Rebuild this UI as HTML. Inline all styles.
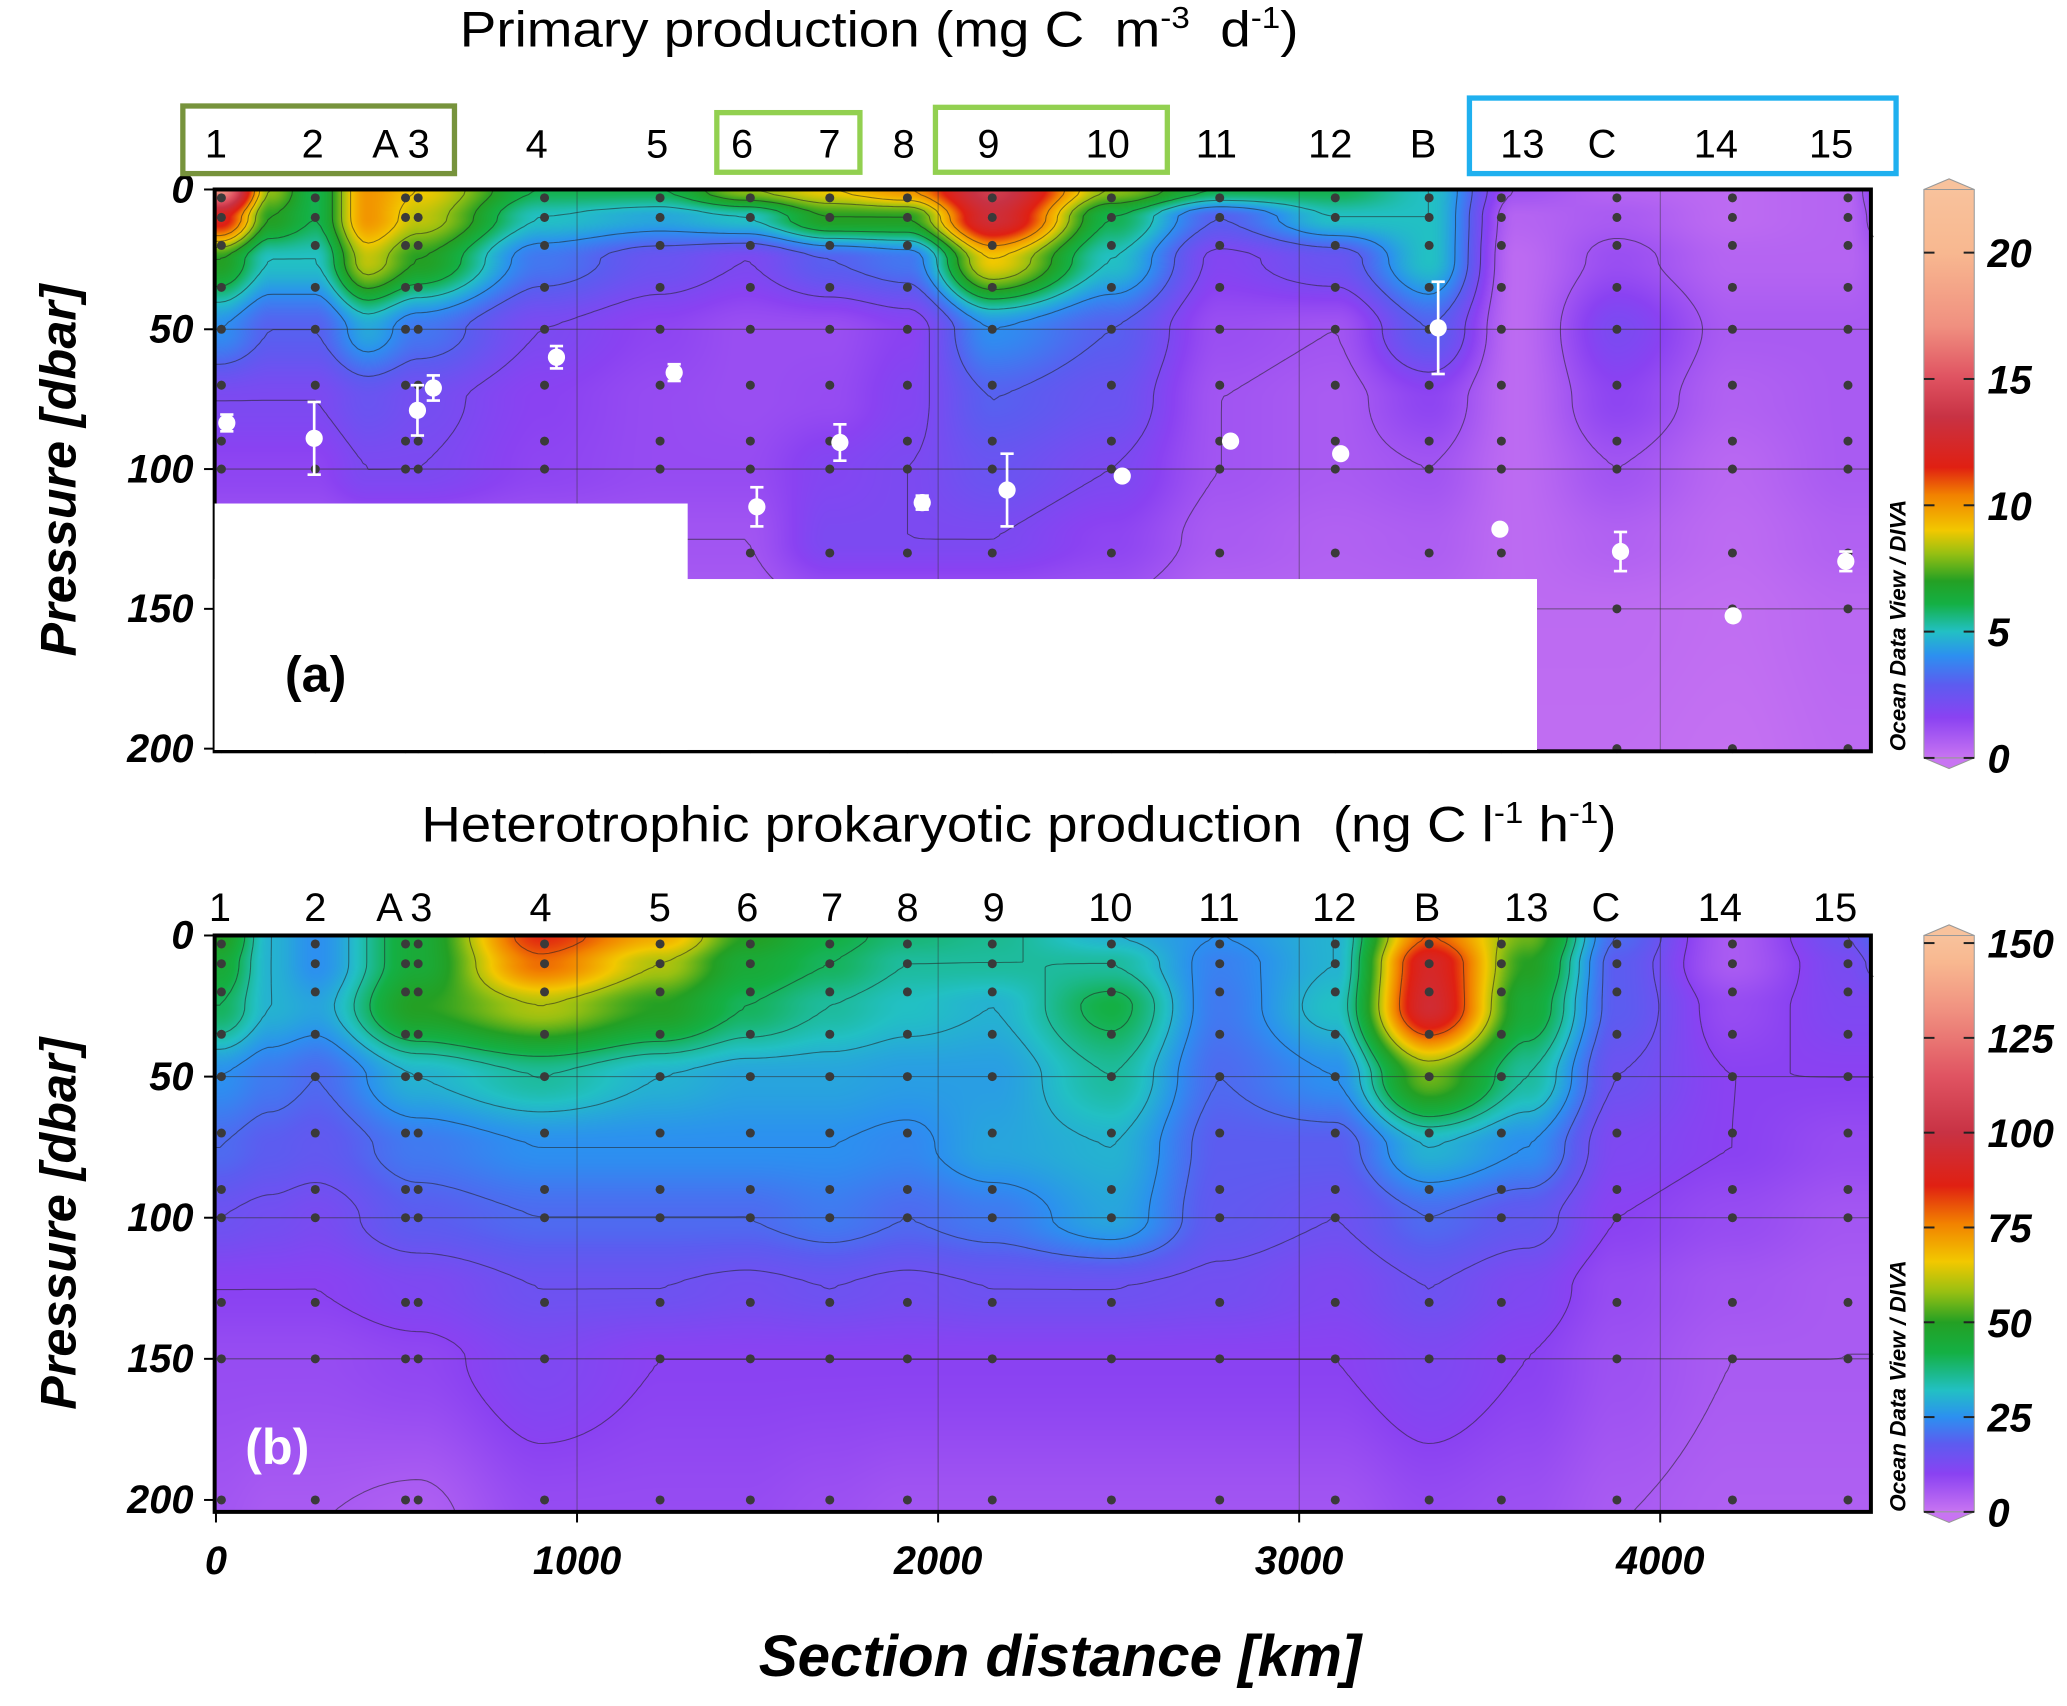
<!DOCTYPE html>
<html><head><meta charset="utf-8">
<style>
html,body{margin:0;padding:0;background:#fff;}
#wrap{position:relative;width:2067px;height:1706px;overflow:hidden;}
#heat{position:absolute;left:0;top:0;}
#svg{position:absolute;left:0;top:0;}
text{font-family:"Liberation Sans",sans-serif;}
</style></head>
<body>
<div id="wrap">
<canvas id="heat" width="2067" height="1706"></canvas>
<svg id="svg" width="2067" height="1706" viewBox="0 0 1560 1287.5" preserveAspectRatio="none">
<defs>
<linearGradient id="cmapA" x1="0" y1="1" x2="0" y2="0"></linearGradient>
<linearGradient id="cmapB" x1="0" y1="1" x2="0" y2="0"></linearGradient>
</defs>
<g id="layer"></g>
</svg>
</div>
<script>
// ---------- data ----------
const depthsGrid = [0,10,25,50,75,100,125,150,210];
const kmA = [10,150,275,420,560,900,1230,1470,1700,1915,2150,2480,2780,3100,3360,3600,3880,4200,4520,4600];
const ppValues = [
 [17,12,7,4,2,1.5,1,1,0.5],
 [8,7,5,3,2,1.5,1,1,0.5],
 [6,6,5,3,2,1.5,1,0.8,0.5],
 [10,10,8.5,4.5,2.5,2,1,0.8,0.5],
 [9,8.5,7,3.5,2.2,2,1,0.8,0.5],
 [6,5,3.5,2,1.6,1.5,1,0.8,0.5],
 [6,4.5,2.5,1.5,1.3,1.3,1,0.8,0.5],
 [8,5,2,1.2,1.2,1.3,1,0.8,0.5],
 [9,7,3,1.2,1.3,1.8,2,1,0.5],
 [10,7,3.5,1.6,1.8,2,2,1,0.5],
 [14,13,9,4,3,2.5,2,1,0.5],
 [8,6,5,3,2.5,2,1.5,1,0.5],
 [6,3,1.8,1.2,1,1,0.8,0.5,0.3],
 [6,5,2.5,1,0.8,0.8,0.6,0.5,0.3],
 [5,5,5,3,1.5,1,0.7,0.5,0.3],
 [1,0.5,0.3,0.3,0.3,0.3,0.3,0.3,0.2],
 [0.5,0.8,1.2,2,1.5,1,0.6,0.3,0.2],
 [0.3,0.3,0.5,0.8,0.6,0.4,0.3,0.2,0.1],
 [0.5,0.5,0.5,0.8,0.8,0.8,0.6,0.4,0.3],
 [1.5,1.2,0.8,0.8,0.8,0.8,0.6,0.4,0.3]
];
const kmB = [10,150,275,560,900,1230,1470,1700,1915,2150,2480,2780,3100,3360,3630,3880,4200,4520,4600];
const hppValues = [
 [50,45,40,25,20,15,10,8,6],
 [30,30,30,22,18,14,10,8,5],
 [25,25,28,20,17,13,10,8,5],
 [45,45,50,30,22,18,12,9,4],
 [85,78,60,35,25,20,15,12,8],
 [70,60,50,30,25,20,15,10,8],
 [50,45,40,28,25,20,14,10,8],
 [42,40,35,28,25,22,15,10,7],
 [38,35,32,27,24,20,14,10,6],
 [36,35,30,27,28,22,15,10,6],
 [30,35,42,35,30,28,15,10,6],
 [25,23,22,20,18,17,14,10,6],
 [30,30,32,25,18,15,12,10,6],
 [80,92,95,55,30,20,15,12,8],
 [55,50,45,35,25,17,12,10,7],
 [20,18,18,15,12,10,8,7,5],
 [5,5,8,10,10,8,6,5,4],
 [15,13,12,10,8,6,5,5,4],
 [20,16,12,10,8,6,5,5,4]
];
const ppObsKm = [30,272,558,602,943,1269,1498,1728,1956,2191,2510,2810,3115,3385,3556,3890,4202,4514];
const ppObsDepth = [83.5,89,79,71,60,65.5,113.5,90.5,112,107.5,102.5,90,94.5,49.5,121.5,129.5,152.5,133];
const ppObsErr = [3,13,9,4.5,4,3,7,6.5,2.5,13,0,0,0,16.5,0,7,0,3.5];
const stationLabelsA = ["1","2","A","3","4","5","6","7","8","9","10","11","12","B","13","C","14","15"];
const stationLabelXA = [163,236,291,316,405,496,560,626,682,746,836,918,1004,1074,1149,1209,1295,1382];
const stationLabelXB = [166,238,294,318,408,498,564,628,685,750,838,920,1007,1077,1152,1212,1298,1385];
const stationKm = [15,275,525,560,910,1230,1480,1700,1915,2150,2480,2780,3100,3360,3560,3880,4200,4520];
const xTicks = [0,1000,2000,3000,4000];
const yTicks = [0,50,100,150,200];
const cbTicksA = [0,5,10,15,20];
const cbTicksB = [0,25,50,75,100,125,150];
const contourLevelsA = [1,2,3,4,5,6,7,8,9,10];
const contourLevelsB = [5,10,15,20,25,30,35,40,60,80];
// ---------- geometry ----------
const S = 2067/1560;
const X0=162, X1=1412, KM_PER=0.2725;
const xs = km => 163 + km*KM_PER;
const PA = {top:143, y200:565, bottom:567};
const PB = {top:706, y200:1132, bottom:1141};
const ys = (p,d) => p.top + d*(p.y200-p.top)/200;
const colors = ['#c874f2','#8a42f2','#5c5cf0','#2c90f0','#22c0c4','#14b044','#24a024','#98c012','#f2c800','#f28200','#e02012','#c83244','#e05462','#f09080','#f8b890','#f8c29c'];
const stopsA = [0,1.6,2.9,4.05,5,6.1,7,8.1,9,10.4,11.5,13.5,15.1,17.1,20,22.5];
const stopsB = [0,10,18,25,32,42,50,58,66,76,86,100,115,132,145,152];
function hex(h){return [parseInt(h.slice(1,3),16),parseInt(h.slice(3,5),16),parseInt(h.slice(5,7),16)];}
const rgb = colors.map(hex);
function cmap(stops,v){v=Math.max(0,Math.min(stops[stops.length-1],v));for(let i=1;i<stops.length;i++){if(v<=stops[i]){const t=(v-stops[i-1])/(stops[i]-stops[i-1]);return [0,1,2].map(k=>rgb[i-1][k]+(rgb[i][k]-rgb[i-1][k])*t);}}return rgb[rgb.length-1];}
function sm(t){return t*t*(3-2*t);}
function field(kms,vals,km,d){
  let i=0;while(i<kms.length-2&&km>kms[i+1])i++;
  let tx=(km-kms[i])/(kms[i+1]-kms[i]);tx=sm(Math.max(0,Math.min(1,tx)));
  let j=0;while(j<depthsGrid.length-2&&d>depthsGrid[j+1])j++;
  let ty=(d-depthsGrid[j])/(depthsGrid[j+1]-depthsGrid[j]);ty=sm(Math.max(0,Math.min(1,ty)));
  const a=vals[i][j]*(1-tx)+vals[i+1][j]*tx, b=vals[i][j+1]*(1-tx)+vals[i+1][j+1]*tx;
  return a*(1-ty)+b*ty;
}
// ---------- heatmaps ----------
const cv=document.getElementById('heat');const ctx=cv.getContext('2d');
const img=ctx.createImageData(2067,1706);
function paint(p,kms,vals,stops){
  const px0=Math.round(X0*S),px1=Math.round(X1*S),py0=Math.round(p.top*S),py1=Math.round(p.bottom*S);
  for(let py=py0;py<py1;py++){const d=(py/S-p.top)*200/(p.y200-p.top);
    for(let px=px0;px<px1;px++){const km=(px/S-163)/KM_PER;
      const c=cmap(stops,field(kms,vals,km,d));const o=(py*2067+px)*4;
      img.data[o]=c[0];img.data[o+1]=c[1];img.data[o+2]=c[2];img.data[o+3]=255;}}
}
paint(PA,kmA,ppValues,stopsA);
paint(PB,kmB,hppValues,stopsB);
ctx.putImageData(img,0,0);
// ---------- svg ----------
const NS='http://www.w3.org/2000/svg';
const L=document.getElementById('layer');
function el(tag,attrs,parent,txt){const e=document.createElementNS(NS,tag);for(const k in attrs)e.setAttribute(k,attrs[k]);if(txt!==undefined)e.textContent=txt;(parent||L).appendChild(e);return e;}
[['cmapA',stopsA],['cmapB',stopsB]].forEach(([id,st])=>{const g=document.getElementById(id);const mx=st[st.length-1];st.forEach((v,i)=>el('stop',{offset:v/mx,'stop-color':colors[i]},g));});

function contours(p,kms,vals,levels,g){
  const step=4;const nx=Math.ceil((X1-X0)/step),ny=Math.ceil((p.bottom-p.top)/step);
  const F=[];for(let j=0;j<=ny;j++){F.push([]);for(let i=0;i<=nx;i++){const x=X0+i*step,y=p.top+j*step;F[j].push(field(kms,vals,(x-163)/KM_PER,(y-p.top)*200/(p.y200-p.top)));}}
  levels.forEach(lv=>{let dstr='';
    for(let j=0;j<ny;j++)for(let i=0;i<nx;i++){
      const v=[F[j][i],F[j][i+1],F[j+1][i+1],F[j+1][i]];const x=X0+i*step,y=p.top+j*step;
      const pc=[[x,y],[x+step,y],[x+step,y+step],[x,y+step]];const pts=[];
      for(let e=0;e<4;e++){const a=v[e],b=v[(e+1)%4];if((a<lv)!==(b<lv)){const t=(lv-a)/(b-a);const A=pc[e],B=pc[(e+1)%4];pts.push([A[0]+(B[0]-A[0])*t,A[1]+(B[1]-A[1])*t]);}}
      for(let k=0;k+1<pts.length;k+=2)dstr+=`M${pts[k][0].toFixed(1)} ${pts[k][1].toFixed(1)}L${pts[k+1][0].toFixed(1)} ${pts[k+1][1].toFixed(1)}`;}
    const path=el('path',{d:dstr,fill:'none',stroke:'#222','stroke-width':0.8,opacity:0.55},g);
    
    
  });
}

function panel(p,name,kms,vals,levels,cbTicks,cbMax,grad,cbTop,cbBottom){
  const g=el('g',{});
  
  
  contours(p,kms,vals,levels,g);
  xTicks.forEach(t=>{if(t>0){const l=el('line',{x1:xs(t),x2:xs(t),y1:p.top,y2:p.bottom,stroke:'#333','stroke-width':0.6,opacity:0.6},g);}});
  yTicks.forEach(t=>{if(t>0&&t<200){const l=el('line',{x1:X0,x2:X1,y1:ys(p,t),y2:ys(p,t),stroke:'#333','stroke-width':0.8,opacity:0.6},g);}});
  stationKm.forEach(k=>{[3,10,20,35,50,70,90,100,130,150,200].forEach(d=>{const c=el('circle',{cx:xs(k),cy:ys(p,d),r:3.4,fill:'#3a3a3a'},g);});});
  const fr=el('rect',{x:X0,y:p.top,width:X1-X0,height:p.bottom-p.top,fill:'none',stroke:'#000','stroke-width':3},g);
  
  yTicks.forEach(t=>{const y=ys(p,t);el('line',{x1:X0-8,x2:X0,y1:y,y2:y,stroke:'#000','stroke-width':1.5},g);
    const tx=el('text',{x:X0-16,y:y+10,'text-anchor':'end','font-size':30,'font-weight':'bold','font-style':'italic'},g,String(t));
    });
  const yl=el('text',{x:0,y:0,transform:`translate(57,${(p.top+p.bottom)/2}) rotate(-90)`,'text-anchor':'middle','font-size':38,'font-weight':'bold','font-style':'italic'},g,'Pressure [dbar]');
  
  const odv=el('text',{x:0,y:0,transform:`translate(1438,${p.bottom}) rotate(-90)`,'font-size':17,'font-weight':'bold','font-style':'italic'},g,'Ocean Data View / DIVA');
  
  const cb=el('g',{},g);
  el('rect',{x:1452,y:cbTop,width:38,height:cbBottom-cbTop,fill:`url(#${grad})`,stroke:'#999','stroke-width':0.8},cb);
  el('polygon',{points:`1452,${cbTop} 1471,${cbTop-8} 1490,${cbTop}`,fill:'#f8c29c',stroke:'#999','stroke-width':0.8},cb);
  el('polygon',{points:`1452,${cbBottom} 1471,${cbBottom+8} 1490,${cbBottom}`,fill:'#c874f2',stroke:'#999','stroke-width':0.8},cb);
  cbTicks.forEach(t=>{const y=cbBottom-(cbBottom-cbTop)*t/cbMax;
    el('line',{x1:1452,x2:1460,y1:y,y2:y,stroke:'#222','stroke-width':1.5},cb);el('line',{x1:1482,x2:1490,y1:y,y2:y,stroke:'#222','stroke-width':1.5},cb);
    const tl=el('text',{x:1500,y:y+11,'font-size':30,'font-weight':'bold','font-style':'italic'},cb,String(t));
    });
  return g;
}
panel(PA,'panel-a-primary-production',kmA,ppValues,contourLevelsA,cbTicksA,22.5,'cmapA',143,572);
panel(PB,'panel-b-heterotrophic-production',kmB,hppValues,contourLevelsB,cbTicksB,152,'cmapB',706,1141);
xTicks.forEach(t=>{const x=xs(t);el('line',{x1:x,x2:x,y1:PB.bottom,y2:PB.bottom+8,stroke:'#000','stroke-width':1.5});
  const tx=el('text',{x:x,y:1188,'text-anchor':'middle','font-size':30,'font-weight':'bold','font-style':'italic'},L,String(t));
  });
const m1=el('rect',{x:162,y:380,width:357,height:186,fill:'#fff'});
const m2=el('rect',{x:162,y:437,width:998,height:129,fill:'#fff'});
ppObsKm.forEach((k,i)=>{const x=xs(k),y=ys(PA,ppObsDepth[i]),e=ppObsErr[i]*2.11;
  const g=el('g',{});
  if(e>0){el('line',{x1:x,x2:x,y1:y-e,y2:y+e,stroke:'#fff','stroke-width':2},g);
    el('line',{x1:x-5,x2:x+5,y1:y-e,y2:y-e,stroke:'#fff','stroke-width':2},g);el('line',{x1:x-5,x2:x+5,y1:y+e,y2:y+e,stroke:'#fff','stroke-width':2},g);}
  el('circle',{cx:x,cy:y,r:6.5,fill:'#fff'},g);});
let t=el('text',{x:215,y:522,'font-size':38,'font-weight':'bold'},L,'(a)');
t=el('text',{x:185,y:1105,'font-size':38,'font-weight':'bold',fill:'#fff'},L,'(b)');
t=el('text',{x:347,y:35,'font-size':38,textLength:633,lengthAdjust:'spacingAndGlyphs'},L);
t.innerHTML='Primary production (mg C&#160; m<tspan dy="-14" font-size="23">-3</tspan><tspan dy="14">&#160; d</tspan><tspan dy="-14" font-size="23">-1</tspan><tspan dy="14">)</tspan>';
t=el('text',{x:318,y:635,'font-size':38,textLength:902,lengthAdjust:'spacingAndGlyphs'},L);
t.innerHTML='Heterotrophic prokaryotic production&#160; (ng C l<tspan dy="-14" font-size="23">-1</tspan><tspan dy="14"> h</tspan><tspan dy="-14" font-size="23">-1</tspan><tspan dy="14">)</tspan>';
t=el('text',{x:800,y:1265,'text-anchor':'middle','font-size':44,'font-weight':'bold','font-style':'italic'},L,'Section distance [km]');
stationLabelsA.forEach((s,i)=>{let a=el('text',{x:stationLabelXA[i],y:119,'text-anchor':'middle','font-size':30},L,s);
  let b=el('text',{x:stationLabelXB[i],y:695,'text-anchor':'middle','font-size':30},L,s);});
[[138,80,205,51,'#77933c'],[541,85,108,45,'#92d050'],[706,81,175,49,'#92d050'],[1109,74,322,57,'#1fb0ef']].forEach(b=>{
  const r=el('rect',{x:b[0],y:b[1],width:b[2],height:b[3],fill:'none',stroke:b[4],'stroke-width':4});});
</script>
</body></html>
